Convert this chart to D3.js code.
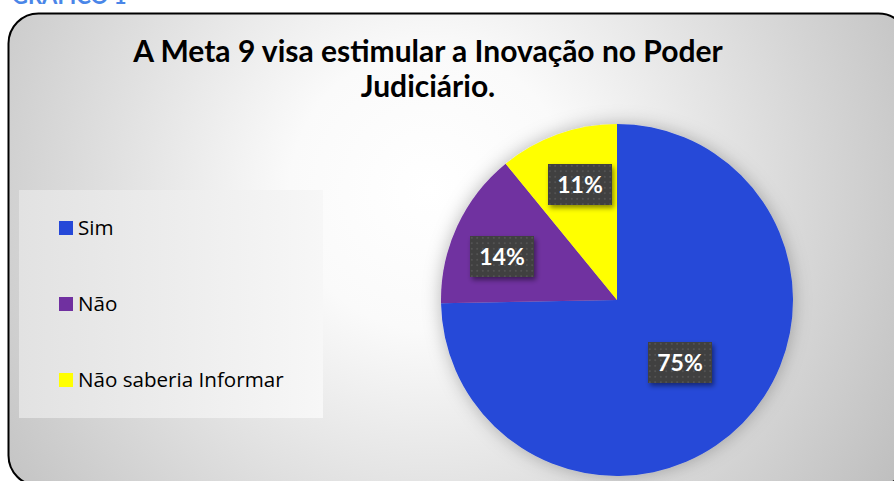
<!DOCTYPE html>
<html><head><meta charset="utf-8">
<script src="https://cdn.jsdelivr.net/npm/d3@7"></script>
<style>html,body{margin:0;padding:0;background:#fff;overflow:hidden}</style>
</head><body>
<svg id="c" width="894" height="481"></svg>
<script>
const categories = ["Sim", "Não", "Não saberia Informar"];
const values = [74.7, 14.4, 10.9];
const labels = ["75%", "14%", "11%"];
const colors = ["#2548D8", "#7030A0", "#FFFF00"];
const titleLines = ["A Meta 9 visa estimular a Inovação no Poder", "Judiciário."];

const svg = d3.select("#c");
const defs = svg.append("defs");

const bg = defs.append("radialGradient").attr("id","bg").attr("gradientUnits","userSpaceOnUse")
  .attr("cx",430).attr("cy",190).attr("r",560).attr("fx",430).attr("fy",190);
bg.append("stop").attr("offset","0%").attr("stop-color","#ffffff");
bg.append("stop").attr("offset","25%").attr("stop-color","#fafafa");
bg.append("stop").attr("offset","100%").attr("stop-color","#bdbdbd");

const lg = defs.append("linearGradient").attr("id","lg").attr("x1","0").attr("x2","1").attr("y1","0").attr("y2","0");
lg.append("stop").attr("offset","0%").attr("stop-color","#e2e2e2");
lg.append("stop").attr("offset","100%").attr("stop-color","#f7f7f7");

const sh = defs.append("filter").attr("id","sh").attr("x","-30%").attr("y","-30%").attr("width","160%").attr("height","160%");
sh.append("feDropShadow").attr("dx",0).attr("dy",0).attr("stdDeviation",9).attr("flood-color","#000").attr("flood-opacity",0.28);

const bsh = defs.append("filter").attr("id","bsh").attr("x","-30%").attr("y","-30%").attr("width","160%").attr("height","160%");
bsh.append("feDropShadow").attr("dx",2).attr("dy",3).attr("stdDeviation",2.5).attr("flood-color","#000").attr("flood-opacity",0.45);

const pat = defs.append("pattern").attr("id","dots").attr("patternUnits","userSpaceOnUse").attr("width",5.5).attr("height",5.5);
pat.append("rect").attr("width",5.5).attr("height",5.5).attr("fill","#3f3f3f");
pat.append("circle").attr("cx",2.75).attr("cy",2.75).attr("r",0.9).attr("fill","#5a5a5a");

// caption above
svg.append("text").attr("x",12).attr("y",4).attr("font-family","Lato, 'Open Sans', sans-serif")
  .attr("font-weight","bold").attr("font-size",22).attr("fill","#4a86e8").text("GRÁFICO 1");

// chart area
svg.append("rect").attr("x",8.5).attr("y",13.5).attr("width",900).attr("height",472)
  .attr("rx",30).attr("ry",30).attr("fill","url(#bg)").attr("stroke","#000").attr("stroke-width",2);

// title
const title = svg.append("text").attr("text-anchor","middle")
  .attr("font-family","Lato, 'Open Sans', sans-serif").attr("font-weight","bold").attr("font-size",30).attr("fill","#000");
titleLines.forEach((t,i)=>title.append("tspan").attr("x",428).attr("y",62+i*35).text(t));

// legend
const legX = 19, legY = 190;
svg.append("rect").attr("x",legX).attr("y",legY).attr("width",304).attr("height",228).attr("fill","url(#lg)");
const ly = d3.scalePoint().domain(categories).range([228, 380]);
const leg = svg.selectAll(".leg").data(categories).enter().append("g").attr("transform",d=>`translate(59,${ly(d)})`);
leg.append("rect").attr("x",0).attr("y",-7).attr("width",14).attr("height",14).attr("fill",(d,i)=>colors[i]);
leg.append("text").attr("x",19).attr("y",7).attr("font-family","'Open Sans', sans-serif").attr("font-size",20.6).attr("fill","#000").text(d=>d);

// pie
const cx = 617, cy = 300, R = 176;
const pie = d3.pie().sort(null).value(d=>d);
const arcs = pie(values);
const arc = d3.arc().innerRadius(0).outerRadius(R);
const g = svg.append("g").attr("transform",`translate(${cx},${cy})`);
g.append("g").attr("filter","url(#sh)").selectAll("path").data(arcs).enter().append("path")
  .attr("d",arc).attr("fill",(d,i)=>colors[i]);

// labels
const labPos = [[63,63],[-115,-43],[-37,-115]];
const lab = g.selectAll(".lab").data(arcs).enter().append("g")
  .attr("transform",(d,i)=>`translate(${labPos[i][0]},${labPos[i][1]})`);
lab.append("rect").attr("x",-32).attr("y",-21).attr("width",64).attr("height",41).attr("fill","url(#dots)").attr("filter","url(#bsh)");
lab.append("text").attr("text-anchor","middle").attr("y",8).attr("font-family","Lato, 'Open Sans', sans-serif")
  .attr("font-weight","bold").attr("font-size",23).attr("fill","#fff").text((d,i)=>labels[i]);
</script>
</body></html>
